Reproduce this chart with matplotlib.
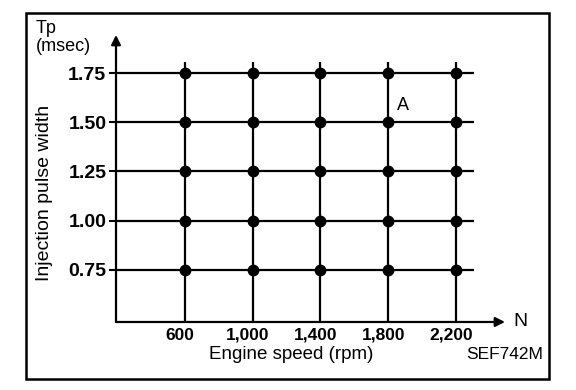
import matplotlib.pyplot as plt
import matplotlib.transforms as mtransforms
import numpy as np
from matplotlib.patches import Rectangle

# data
speeds = [600, 1000, 1400, 1800, 2200]
speed_labels = ['600', '1,000', '1,400', '1,800', '2,200']
pulses = [0.75, 1.00, 1.25, 1.50, 1.75]
pulse_labels = ['0.75', '1.00', '1.25', '1.50', '1.75']

plt.rcParams['font.family'] = ['Liberation Sans', 'DejaVu Sans']

fig = plt.figure(figsize=(5.76, 3.9), dpi=100)
ax = fig.add_axes([0.2014, 0.1744, 0.6753, 0.7359])
ax.set_xlim(193, 2489)
ax.set_ylim(0.486, 1.943)
for s in ax.spines.values():
    s.set_visible(False)

# grid lines
ax.hlines(pulses, 193, 2306, color='black', lw=1.6)
ax.vlines(speeds, 0.486, 1.806, color='black', lw=1.6)

# grid points
X, Y = np.meshgrid(speeds, pulses)
ax.plot(X.ravel(), Y.ravel(), 'o', color='black', ms=7.5)

# axes with arrows
ax.annotate('', xy=(2489, 0.486), xytext=(193, 0.486),
            arrowprops=dict(arrowstyle='-|>', color='black', lw=1.6,
                            mutation_scale=14, shrinkA=0, shrinkB=0),
            annotation_clip=False)
ax.annotate('', xy=(193, 1.943), xytext=(193, 0.486),
            arrowprops=dict(arrowstyle='-|>', color='black', lw=1.6,
                            mutation_scale=14, shrinkA=0, shrinkB=0),
            annotation_clip=False)

ax.set_xticks(speeds)
ax.set_xticklabels(speed_labels, fontsize=12.5, fontweight='bold')
ax.set_yticks(pulses)
ax.set_yticklabels(pulse_labels, fontsize=14, fontweight='bold')
ax.tick_params(axis='x', length=0, pad=4)
ax.tick_params(axis='y', length=5, width=1.5, direction='out', pad=2)
shift = mtransforms.ScaledTranslation(-5 / 100, 0, fig.dpi_scale_trans)
for lbl in ax.get_xticklabels():
    lbl.set_transform(lbl.get_transform() + shift)

ax.text(1850, 1.56, 'A', fontsize=13)
ax.text(2540, 0.486, 'N', fontsize=14, va='center', ha='left')

fig.text(0.062, 0.928, 'Tp', fontsize=13, ha='left', va='center')
fig.text(0.062, 0.880, '(msec)', fontsize=13, ha='left', va='center')
fig.text(0.078, 0.505, 'Injection pulse width', fontsize=14, rotation=90,
         ha='center', va='center')
fig.text(0.505, 0.09, 'Engine speed (rpm)', fontsize=13.5, ha='center', va='center')
fig.text(0.942, 0.09, 'SEF742M', fontsize=12.5, ha='right', va='center')

# outer frame
fig.patches.append(Rectangle((26 / 576, 1 - 379 / 390), (549 - 26) / 576, (379 - 13) / 390,
                             transform=fig.transFigure, fill=False, lw=1.8,
                             edgecolor='black'))

fig.savefig('out.png', dpi=100)
